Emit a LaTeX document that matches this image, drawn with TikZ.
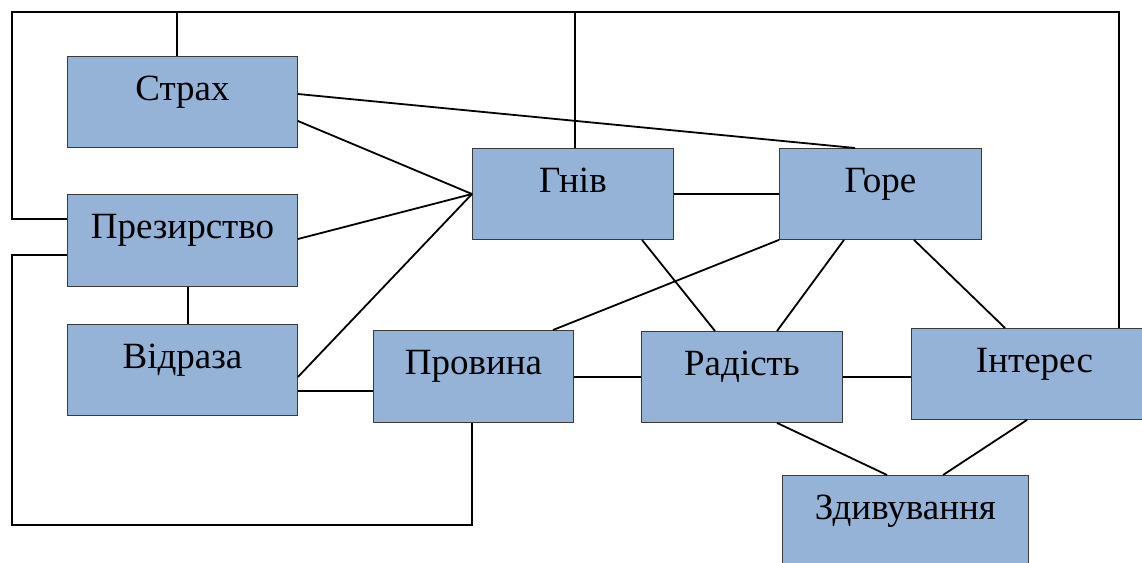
\documentclass[tikz,border=0pt]{standalone}
\usepackage{fontspec}
\setmainfont{Liberation Serif}
\definecolor{boxc}{HTML}{95B3D7}
\definecolor{bordc}{HTML}{3A3A3A}
\tikzset{
  box/.style={draw=bordc, fill=boxc, line width=0.9pt, inner sep=0pt, anchor=north west,
    font=\fontsize{37}{42}\selectfont, text height=44pt, text depth=47pt},
  conn/.style={draw=black, line width=1.8pt}
}
\begin{document}
\begin{tikzpicture}[x=1pt, y=-1pt]
\useasboundingbox (0,0) rectangle (1142,562);
\clip (0,0) rectangle (1142,562);
\fill[white] (0,0) rectangle (1142,562);
\node[box, minimum width=230pt] (strakh) at (67,56) {Страх};
\node[box, minimum width=230pt, text depth=48pt] (prez) at (67,194) {Презирство};
\node[box, minimum width=230pt] (vidr) at (67,324) {Відраза};
\node[box, minimum width=200pt, text depth=48pt] (prov) at (373,330) {Провина};
\node[box, minimum width=201pt] (gniv) at (472,148) {Гнів};
\node[box, minimum width=202pt] (gore) at (779,148) {Горе};
\node[box, minimum width=201pt] (rad) at (641,331) {Радість};
\node[box, minimum width=246pt] (inter) at (911,328) {Інтерес};
\node[box, minimum width=246pt] (zdyv) at (782,475) {Здивування};
\coordinate (tl) at (12,12);
\coordinate (tr) at (1119,12);
\coordinate (bl) at (12,525);
\coordinate (br) at (472,525);
\draw[conn] (prez.west |- 0,219) -| (tl) -- (tr) -- (inter.north -| tr);
\draw[conn] (strakh.north -| 177,0) |- (tl);
\draw[conn] (gniv.north -| 575,0) |- (tl);
\draw[conn] (prez.west |- 0,255) -| (bl) -| (prov.south -| br);
\draw[conn] (prez.south -| 188,0) -- (vidr.north -| 188,0);
\draw[conn] (strakh.east |- 0,94) -- (gore.north -| 855,0);
\draw[conn] (strakh.east |- 0,121) -- (gniv.west |- 0,194);
\draw[conn] (prez.east |- 0,239) -- (gniv.west |- 0,194);
\draw[conn] (vidr.east |- 0,377) -- (gniv.west |- 0,194);
\draw[conn] (vidr.east |- 0,391) -- (prov.west |- 0,391);
\draw[conn] (gniv.east |- 0,194) -- (gore.west |- 0,194);
\draw[conn] (gniv.south -| 642,0) -- (rad.north -| 715,0);
\draw[conn] (gore.south west) -- (prov.north -| 553,0);
\draw[conn] (gore.south -| 844,0) -- (rad.north -| 777,0);
\draw[conn] (gore.south -| 914,0) -- (inter.north -| 1005,0);
\draw[conn] (prov.east |- 0,377) -- (rad.west |- 0,377);
\draw[conn] (rad.east |- 0,377) -- (inter.west |- 0,377);
\draw[conn] (rad.south -| 777,0) -- (zdyv.north -| 887,0);
\draw[conn] (inter.south -| 1027,0) -- (zdyv.north -| 943,0);
\end{tikzpicture}
\end{document}
